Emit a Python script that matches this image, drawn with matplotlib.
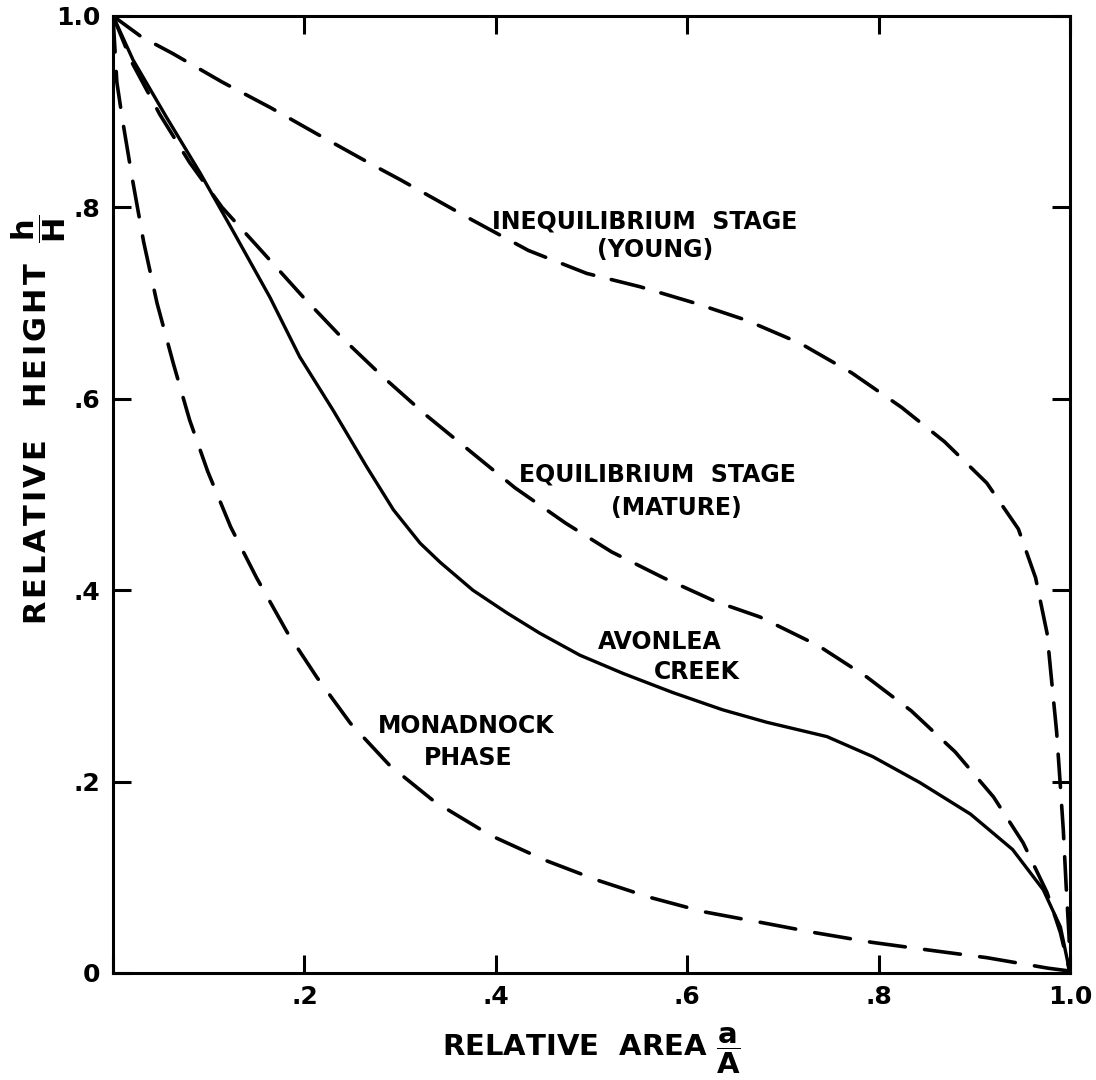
"""
plot.py - Hypsometric curves (relative height vs relative area)
Redraw of an old inked figure: three dashed stage curves plus the
solid Avonlea Creek curve, framed with inward ticks on all sides.
"""

import matplotlib
matplotlib.use('Agg')
import matplotlib.pyplot as plt


# ---------------------------------------------------------------------------
# Data
# ---------------------------------------------------------------------------
young_a = [0.0, 0.030, 0.062, 0.114, 0.165, 0.218, 0.272, 0.300, 0.375, 0.434,
           0.495, 0.551, 0.608, 0.662, 0.718, 0.772, 0.824, 0.869, 0.913, 0.946,
           0.964, 0.976, 0.981, 0.986, 0.990, 0.993, 0.996, 0.999, 1.0]
young_h = [1.0, 0.978, 0.961, 0.931, 0.904, 0.874, 0.844, 0.829, 0.787, 0.755,
           0.731, 0.717, 0.700, 0.682, 0.658, 0.627, 0.591, 0.555, 0.512, 0.464,
           0.413, 0.355, 0.303, 0.252, 0.194, 0.149, 0.090, 0.038, 0.0]

mature_a = [0.0, 0.020, 0.049, 0.080, 0.114, 0.153, 0.199, 0.239, 0.282, 0.327,
            0.371, 0.420, 0.473, 0.521, 0.575, 0.630, 0.676, 0.737, 0.788, 0.834,
            0.880, 0.920, 0.951, 0.976, 0.990, 1.0]
mature_h = [1.0, 0.951, 0.897, 0.847, 0.800, 0.757, 0.706, 0.664, 0.623, 0.583,
            0.547, 0.507, 0.470, 0.440, 0.413, 0.388, 0.372, 0.342, 0.309, 0.274,
            0.231, 0.184, 0.136, 0.084, 0.042, 0.0]

avonlea_a = [0.0, 0.021, 0.056, 0.091, 0.125, 0.164, 0.195, 0.230, 0.265, 0.293,
             0.321, 0.342, 0.376, 0.412, 0.446, 0.488, 0.533, 0.585, 0.637, 0.683,
             0.746, 0.794, 0.843, 0.896, 0.940, 0.972, 0.990, 1.0]
avonlea_h = [1.0, 0.954, 0.894, 0.836, 0.776, 0.706, 0.644, 0.588, 0.529, 0.484,
             0.449, 0.429, 0.400, 0.376, 0.355, 0.332, 0.313, 0.293, 0.275, 0.262,
             0.247, 0.226, 0.199, 0.166, 0.129, 0.087, 0.048, 0.0]

monad_a = [0.0, 0.004, 0.010, 0.020, 0.032, 0.046, 0.063, 0.080, 0.099, 0.123,
           0.150, 0.182, 0.213, 0.248, 0.289, 0.336, 0.394, 0.451, 0.506, 0.561,
           0.617, 0.676, 0.734, 0.793, 0.852, 0.913, 0.977, 1.0]
monad_h = [1.0, 0.931, 0.891, 0.831, 0.764, 0.700, 0.637, 0.578, 0.524, 0.466,
           0.413, 0.356, 0.309, 0.261, 0.217, 0.179, 0.144, 0.118, 0.097, 0.079,
           0.064, 0.053, 0.042, 0.032, 0.024, 0.016, 0.005, 0.002]

tick_values = [0.0, 0.2, 0.4, 0.6, 0.8, 1.0]
x_tick_labels = ['', '.2', '.4', '.6', '.8', '1.0']
y_tick_labels = ['0', '.2', '.4', '.6', '.8', '1.0']

# curve labels: (text, a, h)
curve_labels = [
    ('INEQUILIBRIUM  STAGE', 0.556, 0.785),
    ('(YOUNG)', 0.566, 0.755),
    ('EQUILIBRIUM  STAGE', 0.569, 0.521),
    ('(MATURE)', 0.589, 0.486),
    ('AVONLEA', 0.571, 0.346),
    ('CREEK', 0.610, 0.315),
    ('MONADNOCK', 0.369, 0.258),
    ('PHASE', 0.371, 0.225),
]

INK = '#000000'
LW = 2.6
DASH = (0, (24, 13))   # points, unscaled
HAIR = '\u200a'        # slight letter spacing for the hand-lettered y label

plt.rcParams['lines.scale_dashes'] = False
plt.rcParams['mathtext.fontset'] = 'dejavusans'
plt.rcParams['font.family'] = 'DejaVu Sans'


# ---------------------------------------------------------------------------
# Figure
# ---------------------------------------------------------------------------
fig = plt.figure(figsize=(10.96, 10.8), dpi=100)
fig.set_facecolor('white')
ax = fig.add_axes([0.1031, 0.0991, 0.8732, 0.8861])

ax.plot(young_a, young_h, color=INK, lw=LW, linestyle=DASH, dash_capstyle='round')
ax.plot(mature_a, mature_h, color=INK, lw=LW, linestyle=DASH, dash_capstyle='round')
ax.plot(monad_a, monad_h, color=INK, lw=LW, linestyle=(0, (26, 14)),
        dash_capstyle='round')
ax.plot(avonlea_a, avonlea_h, color=INK, lw=LW - 0.2, linestyle='-')

for txt, a, h in curve_labels:
    ax.text(a, h, txt, ha='center', va='center', fontsize=17,
            fontweight='bold', color=INK)

ax.set_xlim(0, 1)
ax.set_ylim(0, 1)

ax.set_xticks(tick_values)
ax.set_xticklabels(x_tick_labels)
ax.set_yticks(tick_values)
ax.set_yticklabels(y_tick_labels)

ax.tick_params(direction='in', length=13, width=2.2, colors=INK,
               top=True, right=True, labelsize=18, pad=9)
for lbl in ax.get_xticklabels() + ax.get_yticklabels():
    lbl.set_fontweight('bold')

for side in ['top', 'right', 'bottom', 'left']:
    ax.spines[side].set_linewidth(2.2)
    ax.spines[side].set_color(INK)

ax.set_xlabel(r'RELATIVE  AREA $\dfrac{\mathbf{a}}{\mathbf{A}}$',
              fontsize=21, fontweight='bold', color=INK, labelpad=12)

ylabel_text = HAIR.join('RELATIVE') + '   ' + HAIR.join('HEIGHT') + '  '
ax.set_ylabel(ylabel_text + r'$\dfrac{\mathbf{h}}{\mathbf{H}}$',
              fontsize=22, fontweight='bold', color=INK)
ax.yaxis.set_label_coords(-0.047, 0.578)

fig.savefig('out.png', dpi=100, facecolor='white')
